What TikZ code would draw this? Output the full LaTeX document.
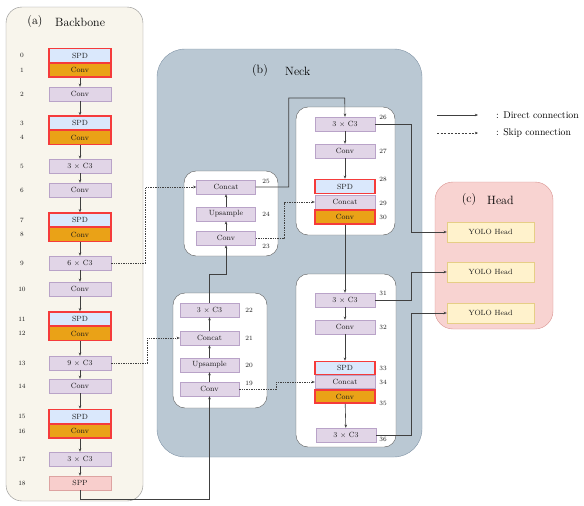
\documentclass[tikz,border=0pt]{standalone}
\usetikzlibrary{arrows.meta}

\definecolor{bbfill}{HTML}{F8F5EC}
\definecolor{neckfill}{HTML}{BAC8D3}
\definecolor{neckline}{HTML}{8194A6}
\definecolor{headfill}{HTML}{F8D3D1}
\definecolor{headline}{HTML}{D8928F}
\definecolor{purfill}{HTML}{E1D5E7}
\definecolor{purline}{HTML}{B9A3C8}
\definecolor{spdfill}{HTML}{DAE8FC}
\definecolor{orfill}{HTML}{EAA217}
\definecolor{redframe}{HTML}{F53B3B}
\definecolor{sppfill}{HTML}{F8CECC}
\definecolor{sppline}{HTML}{DDA3A1}
\definecolor{yolofill}{HTML}{FFF2CC}
\definecolor{yololine}{HTML}{E6CE86}

\tikzset{
  blk/.style={draw=purline, fill=purfill, minimum width=62pt, minimum height=14pt,
    inner sep=0pt, text=black!90, font=\fontsize{7.5}{8}\selectfont},
  nblk/.style={blk, minimum width=59pt},
  spdblk/.style={blk, fill=spdfill, draw=redframe, line width=1.5pt},
  convblk/.style={blk, fill=orfill, draw=redframe, line width=1.5pt},
  sppblk/.style={blk, fill=sppfill, draw=sppline},
  yoloblk/.style={draw=yololine, fill=yolofill, minimum width=87pt, minimum height=20pt,
    inner sep=0pt, text=black!90, font=\fontsize{7.5}{8}\selectfont},
  idx/.style={inner sep=0pt, text=black!90, font=\fontsize{6.5}{7}\selectfont},
  title/.style={inner sep=0pt, text=black, font=\fontsize{12}{14}\selectfont},
  direct/.style={draw=black!75, line width=0.6pt, -{Stealth[length=3.2pt,width=2.6pt]}},
  skip/.style={direct, dash pattern=on 1.4pt off 1pt},
}

\begin{document}
\begin{tikzpicture}[x=1pt,y=-1pt]
\useasboundingbox (0,0) rectangle (584,506);

% Panels
\draw[black!45, fill=bbfill, rounded corners=16pt] (6,7) rectangle (143,501);
\draw[neckline, fill=neckfill, rounded corners=28pt] (157,49) rectangle (422,457);
\draw[black!65, fill=white, rounded corners=12pt] (184,171) rectangle (278,256);
\draw[black!65, fill=white, rounded corners=12pt] (173,293) rectangle (267,408);
\draw[black!65, fill=white, rounded corners=12pt] (296,107) rectangle (395,235);
\draw[black!65, fill=white, rounded corners=12pt] (296,274) rectangle (396,447);
\draw[headline, fill=headfill, rounded corners=18pt] (435,182) rectangle (553,329);

% Titles
\node[title] (ta) at (35,22) {(a)};
\node[title, anchor=west] (tabb) at (55,22) {Backbone};
\node[title] (tb) at (260,71) {(b)};
\node[title, anchor=west] (tbn) at (285,71) {Neck};
\node[title] (tc) at (469,200) {(c)};
\node[title, anchor=west] (tch) at (487,200) {Head};

% Backbone
\node[spdblk] (b0) at (80,55.5) {SPD};
\node[convblk] (b1) at (80,70) {Conv};
\node[blk] (b2) at (80,94) {Conv};
\node[spdblk] (b3) at (80,123) {SPD};
\node[convblk] (b4) at (80,137.5) {Conv};
\node[blk] (b5) at (80,166) {3 $\times$ C3};
\node[blk] (b6) at (80,190) {Conv};
\node[spdblk] (b7) at (80,220) {SPD};
\node[convblk] (b8) at (80,234.5) {Conv};
\node[blk] (b9) at (80,263) {6 $\times$ C3};
\node[blk] (b10) at (80,289) {Conv};
\node[spdblk] (b11) at (80,319) {SPD};
\node[convblk] (b12) at (80,333.5) {Conv};
\node[blk] (b13) at (80,363) {9 $\times$ C3};
\node[blk] (b14) at (80,386) {Conv};
\node[spdblk] (b15) at (80,416.5) {SPD};
\node[convblk] (b16) at (80,431) {Conv};
\node[blk] (b17) at (80,459) {3 $\times$ C3};
\node[sppblk] (b18) at (80,483) {SPP};

\foreach \i/\y in {0/55.5,1/70,2/94,3/123,4/137.5,5/166,6/190,7/220,8/234.5,9/263,
    10/289,11/319,12/333.5,13/363,14/386,15/416.5,16/431,17/459,18/483}
  \node[idx] (i\i) at (22,\y) {\i};

% Neck, upper left
\node[nblk] (n25) at (226,187) {Concat};
\node[nblk] (n24) at (226,214) {Upsample};
\node[nblk] (n23) at (226,238) {Conv};
\node[idx] (i25) at (266,181) {25};
\node[idx] (i24) at (266,214) {24};
\node[idx] (i23) at (266,246) {23};

% Neck, lower left
\node[nblk] (n22) at (209.5,310) {3 $\times$ C3};
\node[nblk] (n21) at (209.5,338) {Concat};
\node[nblk] (n20) at (209.5,365) {Upsample};
\node[nblk] (n19) at (209.5,389) {Conv};
\node[idx] (i22) at (249,310) {22};
\node[idx] (i21) at (249,338) {21};
\node[idx] (i20) at (249,365) {20};
\node[idx] (i19) at (249,383) {19};

% Neck, upper right
\node[nblk, minimum width=60pt] (n26) at (345,124) {3 $\times$ C3};
\node[nblk, minimum width=60pt] (n27) at (345,151) {Conv};
\node[spdblk, minimum width=60pt] (n28) at (345,186.5) {SPD};
\node[nblk, minimum width=60pt] (n29) at (345,202) {Concat};
\node[convblk, minimum width=60pt] (n30) at (345,217) {Conv};
\node[idx] (i26) at (383,117) {26};
\node[idx] (i27) at (383,151) {27};
\node[idx] (i28) at (383,179) {28};
\node[idx] (i29) at (383,203) {29};
\node[idx] (i30) at (383,217) {30};

% Neck, lower right
\node[nblk, minimum width=60pt] (n31) at (345,300) {3 $\times$ C3};
\node[nblk, minimum width=60pt] (n32) at (345,327) {Conv};
\node[spdblk, minimum width=60pt, minimum height=13pt] (n33) at (345,368) {SPD};
\node[nblk, minimum width=60pt, minimum height=13pt] (n34) at (345,382) {Concat};
\node[convblk, minimum width=60pt, minimum height=13pt] (n35) at (345,396.5) {Conv};
\node[nblk, minimum width=60pt] (n36) at (346,435) {3 $\times$ C3};
\node[idx] (i31) at (383,293) {31};
\node[idx] (i32) at (383,327) {32};
\node[idx] (i33) at (383,368) {33};
\node[idx] (i34) at (383,382) {34};
\node[idx] (i35) at (383,403) {35};
\node[idx] (i36) at (383,439) {36};

% Head
\node[yoloblk] (h1) at (490.5,232) {YOLO Head};
\node[yoloblk] (h2) at (490.5,272) {YOLO Head};
\node[yoloblk] (h3) at (490.5,313) {YOLO Head};

% Legend
\coordinate (l1a) at (437,115);
\coordinate (l1b) at (478,115);
\coordinate (l2a) at (437,133);
\coordinate (l2b) at (478,133);
\draw[direct] (l1a) -- (l1b);
\draw[skip, dash pattern=on 2pt off 1.5pt] (l2a) -- (l2b);
\node[anchor=west, inner sep=0pt, font=\fontsize{9.8}{11}\selectfont] (ld) at (496,115) {: Direct connection};
\node[anchor=west, inner sep=0pt, font=\fontsize{9.8}{11}\selectfont] (ls) at (496,133) {: Skip connection};

% Backbone chain
\foreach \a/\b in {1/2,2/3,4/5,5/6,6/7,8/9,9/10,10/11,12/13,13/14,14/15,16/17,17/18}
  \draw[direct] (b\a) -- (b\b);

% Backbone to neck
\draw[direct] (b18.south) -- ++(0,9) -| (n19.south);
\draw[direct] (n19) -- (n20);
\draw[direct] (n20) -- (n21);
\draw[direct] (n21) -- (n22);
\draw[direct] (n22.north) -- ++(0,-29) -| (n23.south);
\draw[direct] (n23) -- (n24);
\draw[direct] (n24) -- (n25);
\draw[direct] (n25.east) -- ++(33,0) |- ++(56,-89) -- (n26.north);
\draw[direct] (n26) -- (n27);
\draw[direct] (n27) -- (n28);
\draw[direct] (n30) -- (n31);
\draw[direct] (n31) -- (n32);
\draw[direct] (n32) -- (n33);
\draw[direct] (n35) -- (n36);

% Neck to head
\draw[direct] (n26.east) -- ++(36,0) |- (h1.west);
\draw[direct] (n31.east) -- ++(36,0) |- (h2.west);
\draw[direct] (n36.east) -- ++(35,0) |- (h3.west);

% Skip connections
\draw[skip] (b9.east) -- ++(34,0) |- (n25.west);
\draw[skip] (b13.east) -- ++(36,0) |- (n21.west);
\draw[skip] (n23.east) -- ++(29,0) |- (n29.west);
\draw[skip] (n19.east) -- ++(37,0) |- (n34.west);

\end{tikzpicture}
\end{document}
